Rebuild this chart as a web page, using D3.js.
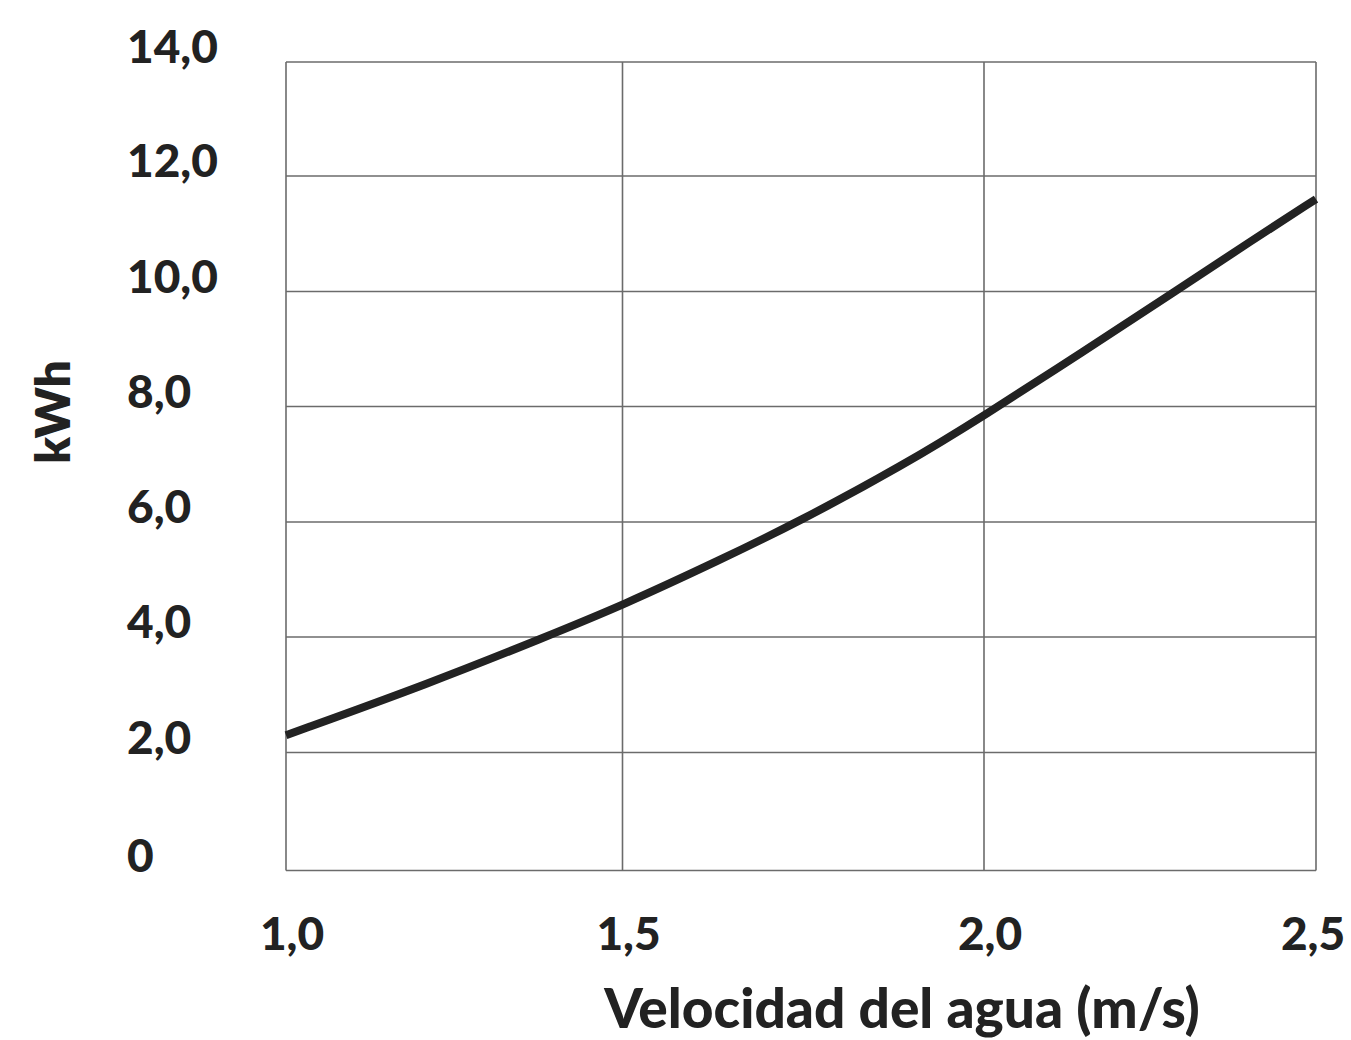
<!DOCTYPE html>
<html>
    <head>
        <meta charset="utf-8">
        <title>kWh vs velocidad</title>
        <script src="https://d3js.org/d3.v7.min.js"></script>
        <style>
            body{ margin: 0; background: #fff; }
            .grid line{ stroke: #6b6b6b; stroke-width: 1.6px; }
            .tick-label{
                font-family: Lato, "Noto Sans", sans-serif;
                font-weight: 900;
                font-size: 46px;
                fill: #222;
            }
            .title{
                font-family: Lato, "Noto Sans", sans-serif;
                font-weight: 900;
                fill: #222;
            }
            .curve{ fill: none; stroke: #222; stroke-width: 8px; stroke-linecap: butt; }
        </style>
    </head>
    <body>
        <script>
            // tick values + labels
            const xTicks = [1.0, 1.5, 2.0, 2.5];
            const xLabels = ["1,0", "1,5", "2,0", "2,5"];
            const yTicks = [0, 2, 4, 6, 8, 10, 12, 14];
            const yLabels = ["0", "2,0", "4,0", "6,0", "8,0", "10,0", "12,0", "14,0"];

            // curve
            const velocidad = [1.0, 1.214, 1.385, 1.5, 1.635, 1.743, 1.888, 2.0, 2.15, 2.288, 2.40, 2.5];
            const kwh       = [2.30, 3.20, 4.0, 4.55, 5.34, 6.0, 6.98, 7.84, 8.96, 10.0, 10.86, 11.60];

            var outerWidth = 1351;
            var outerHeight = 1040;

            var svg = d3.select("body").append("svg")
                .attr("width", outerWidth)
                .attr("height", outerHeight);

            // the grid in the original is not evenly spaced, so piecewise scales
            let xScale = d3.scaleLinear().domain(xTicks).range([286, 622.5, 984, 1316]);
            let yScale = d3.scaleLinear().domain(yTicks).range([870.5, 752.5, 637, 522, 406.5, 291.5, 176, 62]);

            var grid = svg.append("g").attr("class", "grid");
            grid.selectAll("line.h").data(yTicks).enter().append("line")
                .attr("class", "h")
                .attr("x1", xScale(1.0)).attr("x2", xScale(2.5))
                .attr("y1", function(d){ return yScale(d); })
                .attr("y2", function(d){ return yScale(d); });
            grid.selectAll("line.v").data(xTicks).enter().append("line")
                .attr("class", "v")
                .attr("y1", yScale(0)).attr("y2", yScale(14))
                .attr("x1", function(d){ return xScale(d); })
                .attr("x2", function(d){ return xScale(d); });

            // y labels sit left aligned, baseline on the grid line
            svg.selectAll("text.ylab").data(yTicks).enter().append("text")
                .attr("class", "tick-label ylab")
                .attr("x", 127)
                .attr("y", function(d){ return yScale(d) + 1; })
                .text(function(d, i){ return yLabels[i]; });

            svg.selectAll("text.xlab").data(xTicks).enter().append("text")
                .attr("class", "tick-label xlab")
                .attr("text-anchor", "middle")
                .attr("x", function(d){ return Math.min(xScale(d) + 6, outerWidth - 38); })
                .attr("y", 950)
                .text(function(d, i){ return xLabels[i]; });

            var pts = velocidad.map(function(v, i){ return [v, kwh[i]]; });
            var line = d3.line()
                .x(function(d){ return xScale(d[0]); })
                .y(function(d){ return yScale(d[1]); })
                .curve(d3.curveBasis);
            svg.append("path").attr("class", "curve").attr("d", line(pts));

            // axis titles
            svg.append("text").attr("class", "title")
                .attr("x", 902).attr("y", 1028)
                .attr("text-anchor", "middle")
                .style("font-size", "55px")
                .text("Velocidad del agua (m/s)");

            svg.append("text").attr("class", "title")
                .attr("transform", "translate(70,412) rotate(-90)")
                .attr("text-anchor", "middle")
                .style("font-size", "48px")
                .style("font-weight", 800)
                .text("kWh");
        </script>
    </body>
</html>
